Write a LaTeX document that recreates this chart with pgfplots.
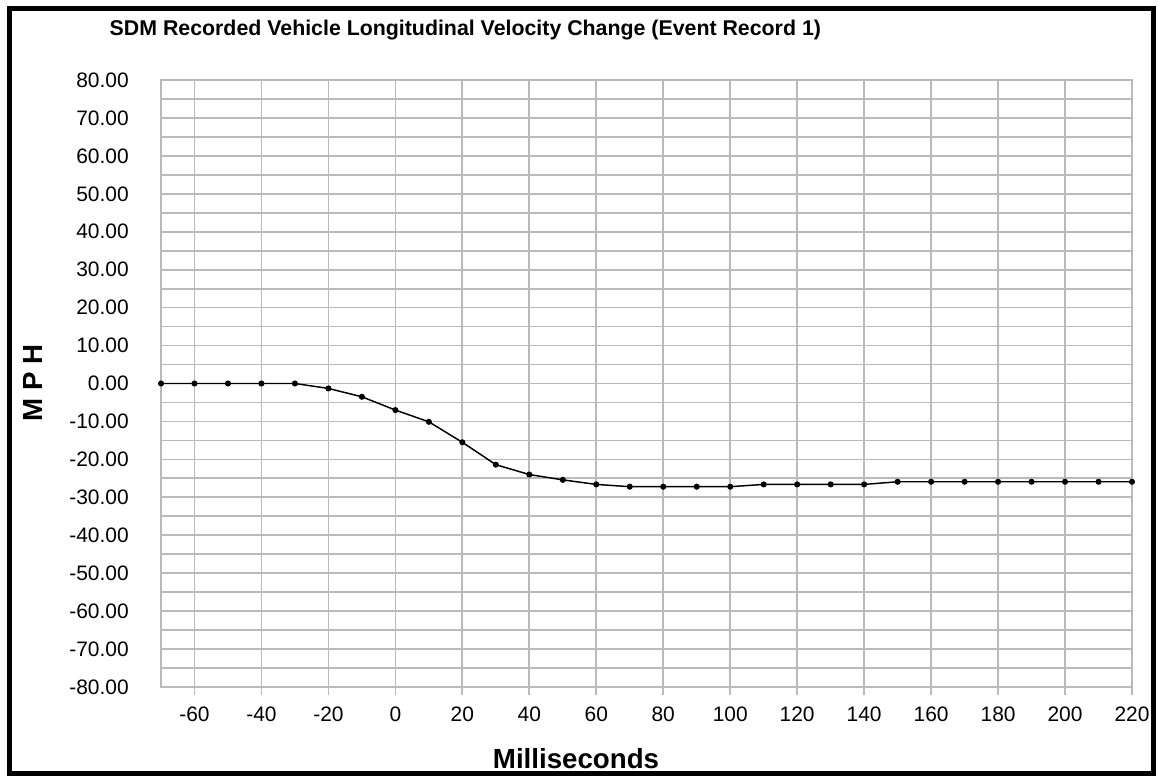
\documentclass[border=0pt]{standalone}
\usepackage{fontspec}
\setmainfont{Liberation Sans}
\usepackage{pgfplots}
\pgfplotsset{compat=1.18}
\definecolor{gridgray}{RGB}{186,186,186}

\begin{document}
\begin{tikzpicture}
\path[use as bounding box] (0,0) rectangle (869.25pt,582pt);
\fill[white] (0,0) rectangle (869.25pt,582pt);
\begin{axis}[
  at={(120.75pt,66.75pt)}, anchor=south west,
  width=728.25pt, height=455.25pt, scale only axis,
  xmin=-70, xmax=220, ymin=-80, ymax=80,
  xtick={-60,-40,...,220},
  ytick={-80,-70,...,80},
  minor y tick num=1,
  grid=both,
  major grid style={gridgray, line width=1.3pt},
  minor grid style={gridgray, line width=1.3pt},
  axis line style={gridgray, line width=1.5pt},
  tick align=outside,
  xtick pos=bottom,
  ytick pos=left,
  major tick length=6pt,
  x tick style={gridgray, line width=1.3pt},
  y tick style={draw=none},
  minor y tick style={draw=none},
  /pgf/number format/assume math mode=true,
  tick label style={font=\fontsize{15.7}{18}\selectfont},
  x tick label style={anchor=base, yshift=-19.5pt},
  y tick label style={anchor=east, inner sep=0pt, xshift=-18pt,
    /pgf/number format/fixed, /pgf/number format/fixed zerofill,
    /pgf/number format/precision=2},
  scaled y ticks=false,
]
\addplot[black, line width=1.1pt, mark=*, mark size=1.7pt, mark options={fill=black}] table {
x y
-70 0
-60 0
-50 0
-40 0
-30 0
-20 -1.3
-10 -3.5
0 -7.0
10 -10.1
20 -15.5
30 -21.4
40 -24.0
50 -25.4
60 -26.6
70 -27.2
80 -27.2
90 -27.2
100 -27.2
110 -26.6
120 -26.6
130 -26.6
140 -26.6
150 -25.9
160 -25.9
170 -25.9
180 -25.9
190 -25.9
200 -25.9
210 -25.9
220 -25.9
};
\end{axis}
\node[anchor=base west, font=\bfseries\fontsize{16}{19}\selectfont] at (78.75pt,555pt) {SDM Recorded Vehicle Longitudinal Velocity Change (Event Record 1)};
\node[anchor=base, font=\bfseries\fontsize{20.75}{24}\selectfont] at (432pt,6pt) {Milliseconds};
\node[anchor=base, rotate=90, font=\bfseries\fontsize{20.75}{24}\selectfont] at (31.5pt,294.75pt) {M P H};
\draw[black, line width=3.75pt] (7.125pt,1.875pt) rectangle (864.75pt,575.6pt);
\end{tikzpicture}
\end{document}
